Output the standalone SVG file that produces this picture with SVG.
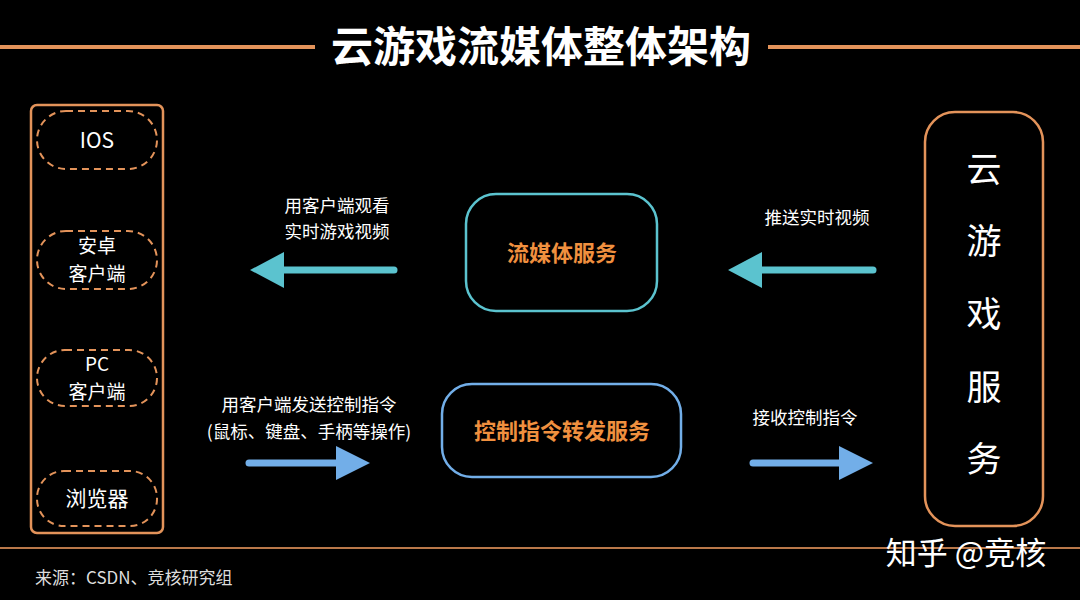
<svg xmlns="http://www.w3.org/2000/svg" width="1080" height="600" viewBox="0 0 1080 600">
<style>
text{font-family:"Noto Sans CJK SC","Liberation Sans",sans-serif;}
.w{fill:#ffffff;}
.lbl{fill:#ffffff;font-size:17.5px;text-anchor:middle;}
.pill{fill:none;stroke:#e3935a;stroke-width:2;stroke-dasharray:7 5;}
.pt{fill:#ffffff;font-size:21px;text-anchor:middle;}
.pt2{fill:#ffffff;font-size:19px;text-anchor:middle;}
.svc{fill:#f0903f;font-size:22px;font-weight:bold;text-anchor:middle;}
.teal{stroke:#5bc3cf;stroke-width:7;stroke-linecap:round;fill:none;}
.blue{stroke:#72aee8;stroke-width:7;stroke-linecap:round;fill:none;}
.vt{fill:#ffffff;font-size:35px;text-anchor:middle;}
</style>
<rect width="1080" height="600" fill="#000000"/>
<g id="title">
<line x1="0" y1="47" x2="315" y2="47" stroke="#e3935a" stroke-width="4"/>
<line x1="768" y1="47" x2="1080" y2="47" stroke="#e3935a" stroke-width="4"/>
<text x="541" y="62" class="w" font-size="42" font-weight="bold" text-anchor="middle">云游戏流媒体整体架构</text>
</g>
<g id="clients">
<rect x="31" y="105" width="132" height="428" rx="6" fill="none" stroke="#e3935a" stroke-width="2.5"/>
<g id="ios"><rect x="37" y="111" width="120" height="58" rx="29" class="pill"/><text x="97" y="148" class="pt">IOS</text></g>
<g id="android"><rect x="37" y="231" width="120" height="58" rx="29" class="pill"/><text x="97" y="253" class="pt2">安卓</text><text x="97" y="281" class="pt2">客户端</text></g>
<g id="pc"><rect x="37" y="350" width="120" height="56" rx="28" class="pill"/><text x="97" y="371" class="pt2">PC</text><text x="97" y="399" class="pt2">客户端</text></g>
<g id="browser"><rect x="37" y="471" width="120" height="55" rx="27" class="pill"/><text x="97" y="506" class="pt">浏览器</text></g>
</g>
<g id="stream">
<rect x="466" y="194" width="191" height="117" rx="30" fill="none" stroke="#5bc3cf" stroke-width="2.5"/>
<text x="562" y="261" class="svc">流媒体服务</text>
</g>
<g id="control">
<rect x="442" y="384" width="239" height="93" rx="30" fill="none" stroke="#72aee8" stroke-width="2.5"/>
<text x="562" y="439" class="svc">控制指令转发服务</text>
</g>
<g id="cloud">
<rect x="925" y="112" width="118" height="414" rx="30" fill="none" stroke="#e3935a" stroke-width="2.5"/>
<text x="984" y="182" class="vt">云</text>
<text x="984" y="254" class="vt">游</text>
<text x="984" y="327" class="vt">戏</text>
<text x="984" y="400" class="vt">服</text>
<text x="984" y="472" class="vt">务</text>
</g>
<g id="connectors">
<line x1="280" y1="270" x2="394" y2="270" class="teal"/>
<polygon points="250,270 284,252 284,288" fill="#5bc3cf"/>
<line x1="758" y1="270" x2="873" y2="270" class="teal"/>
<polygon points="728,270 762,252 762,288" fill="#5bc3cf"/>
<line x1="249" y1="463" x2="340" y2="463" class="blue"/>
<polygon points="370,463 336,446 336,480" fill="#72aee8"/>
<line x1="753" y1="463" x2="843" y2="463" class="blue"/>
<polygon points="873,463 839,446 839,480" fill="#72aee8"/>
</g>
<g id="labels">
<text x="337" y="212" class="lbl">用客户端观看</text>
<text x="337" y="238" class="lbl">实时游戏视频</text>
<text x="817" y="224" class="lbl">推送实时视频</text>
<text x="309" y="411" class="lbl">用客户端发送控制指令</text>
<text x="309" y="438" class="lbl">(鼠标、键盘、手柄等操作)</text>
<text x="805" y="424" class="lbl">接收控制指令</text>
</g>
<g id="footer">
<line x1="0" y1="548" x2="1080" y2="548" stroke="#b9784a" stroke-width="2"/>
<text x="35" y="584" fill="#dddddd" font-size="17">来源：CSDN、竞核研究组</text>
<text x="966" y="564" class="w" font-size="31" text-anchor="middle">知乎 @竞核</text>
</g>
</svg>
